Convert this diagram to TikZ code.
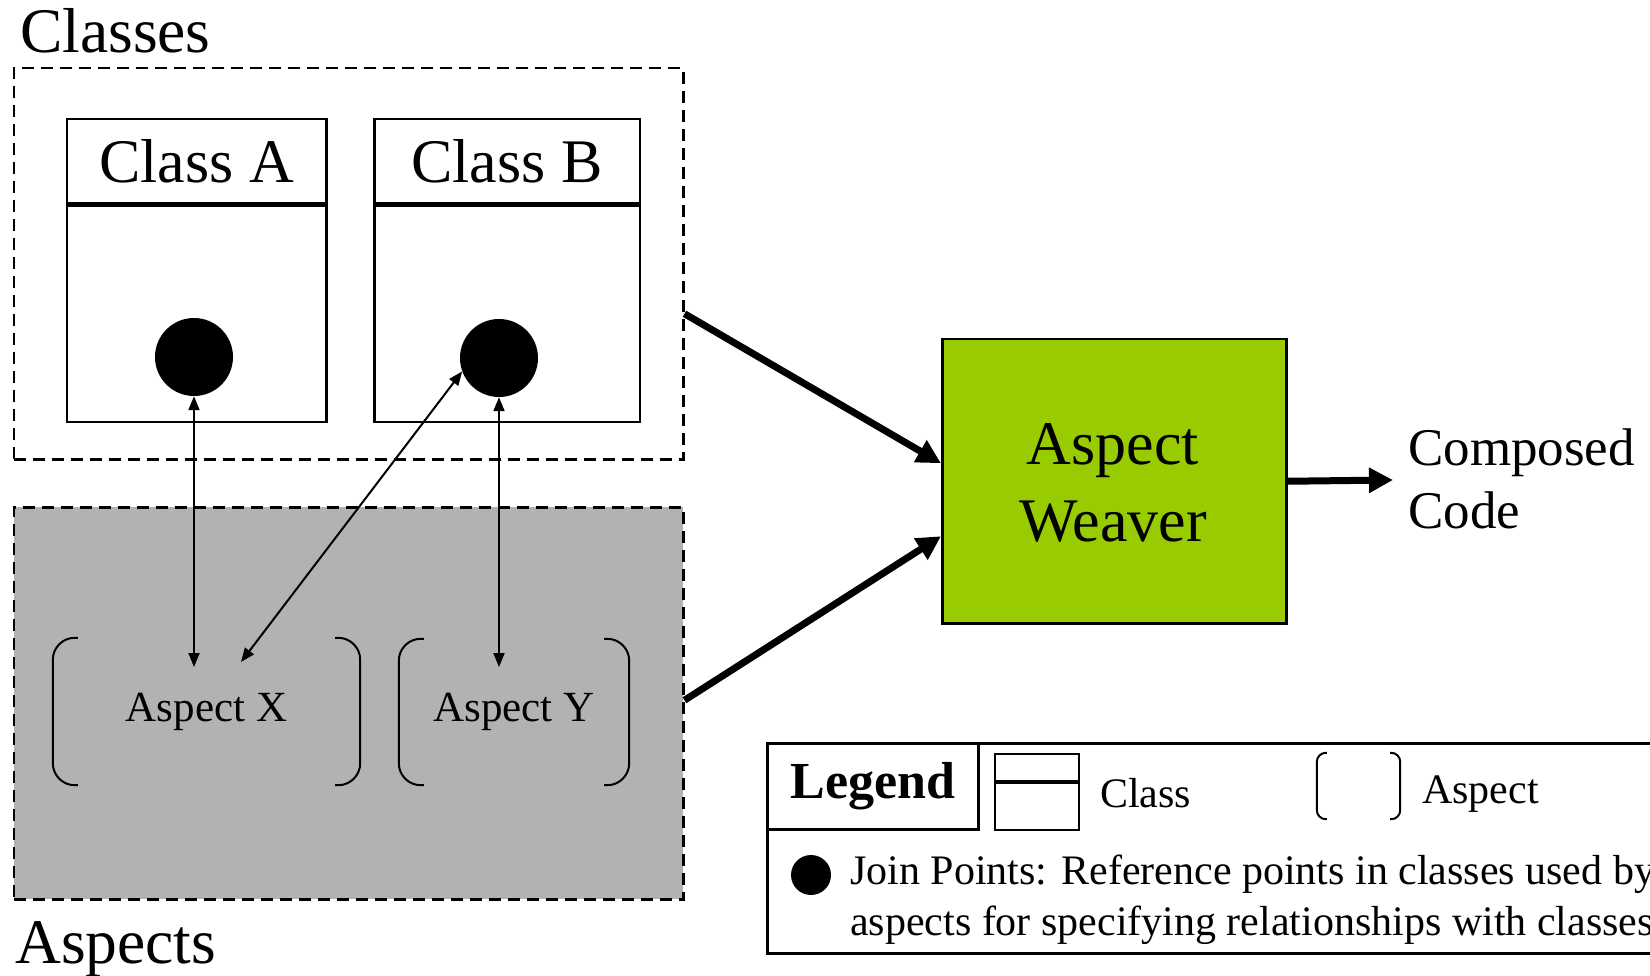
\documentclass[tikz,border=0pt]{standalone}
\usepackage{fontspec}
\setmainfont{Liberation Serif}
\usetikzlibrary{arrows.meta}
\definecolor{weavergreen}{HTML}{99CC00}
\definecolor{aspectgray}{HTML}{B2B2B2}

% two rounded brackets on the left and right sides of a node
\newcommand\drawaspectbrackets[3]{%
  \draw[bracket,rounded corners=#3] ([xshift=#2]#1.north west) -- (#1.north west)
      -- (#1.south west) -- ([xshift=#2]#1.south west);
  \draw[bracket,rounded corners=#3] ([xshift=-#2]#1.north east) -- (#1.north east)
      -- (#1.south east) -- ([xshift=-#2]#1.south east);}

\begin{document}
\begin{tikzpicture}[x=1pt,y=-1pt,
  groupbox/.style={draw,dash pattern=on 12pt off 7pt,line width=2.5pt,inner sep=0pt,anchor=north west},
  classhead/.style={draw,line width=2.5pt,minimum height=84pt,inner sep=0pt,anchor=north west,
      font=\fontsize{62}{70}\selectfont},
  classbody/.style={draw,line width=2.5pt,minimum height=216pt,inner sep=0pt,anchor=north},
  joinpt/.style={circle,fill=black,inner sep=0pt,minimum size=#1},
  joinpt/.default=78pt,
  aspectlbl/.style={inner sep=0pt,font=\fontsize{43}{50}\selectfont},
  bracket/.style={line width=2pt},
  biglabel/.style={inner sep=0pt,font=\fontsize{63.5}{70}\selectfont},
  legtext/.style={inner sep=0pt,font=\fontsize{42}{51}\selectfont},
  link/.style={line width=2pt,{Triangle[length=14pt,width=11pt]}-{Triangle[length=14pt,width=11pt]}},
  flow/.style={line width=7pt,-{Triangle[length=24pt,width=24pt]}},
]
\useasboundingbox (0,0) rectangle (1650,976);
\clip (0,0) rectangle (1650,976);

% group frames
\node[biglabel,anchor=base west] (classesLbl) at (20,53) {Classes};
\node[groupbox,minimum width=669.5pt,minimum height=391pt] (classes) at (12.5,67) {};
\node[groupbox,fill=aspectgray,minimum width=669.5pt,minimum height=392pt] (aspects) at (12.5,506) {};
\node[biglabel,anchor=base west] (aspectsLbl) at (15,963) {Aspects};

% classes with their join points
\node[classhead,minimum width=259.5pt] (classA) at (65.6,118) {Class A};
\node[classbody,minimum width=259.5pt] (classAbody) at (classA.south) {};
\node[classhead,minimum width=265.5pt] (classB) at (373,118) {Class B};
\node[classbody,minimum width=265.5pt] (classBbody) at (classB.south) {};
\node[joinpt] (joinA) at (194,357) {};
\node[joinpt] (joinB) at (499,358) {};

% aspects
\node[aspectlbl,minimum width=307pt,minimum height=147pt] (aspectX) at (206.5,711.5) {Aspect X};
\node[aspectlbl,minimum width=230pt,minimum height=146pt] (aspectY) at (514,712) {Aspect Y};
\drawaspectbrackets{aspectX}{25pt}{22pt}
\drawaspectbrackets{aspectY}{25pt}{22pt}

% links between join points and aspects
\coordinate (tipAX) at (194,667);
\coordinate (tipBX) at (241,662);
\coordinate (tipBY) at (499,667);
\draw[link] (joinA.south) -- (tipAX);
\draw[link] (joinB.200) -- (tipBX);
\draw[link] (joinB.south) -- (tipBY);

% weaver
\node[draw,fill=weavergreen,line width=2.5pt,minimum width=344pt,minimum height=284pt,
      anchor=north west] (weaver) at (941,338) {};
\node[inner sep=0pt,align=center,font=\fontsize{62}{77}\selectfont,anchor=north] (weaverText)
      at (1113,423) {Aspect\\Weaver};
\node[inner sep=0pt,align=left,font=\fontsize{53}{63}\selectfont,anchor=north west] (composed)
      at (1408,429) {Composed\\Code};
\coordinate (outTip) at (1393,480);

\draw[flow] ([yshift=-50pt]classes.east) -- ([yshift=18pt]weaver.west);
\draw[flow] ([yshift=3pt]aspects.east) -- ([yshift=-55pt]weaver.west);
\draw[flow] (weaver.east) -- (outTip);

% legend
\node[draw,line width=2.5pt,anchor=north west,minimum width=1000pt,minimum height=210pt] (legend)
      at (766,742) {};
\node[draw,line width=2.5pt,anchor=north west,minimum width=211pt,minimum height=86pt,
      inner sep=0pt,font=\bfseries\fontsize{52}{60}\selectfont] (legendTitle) at (766,742) {Legend};
\node[draw,line width=2pt,anchor=north west,minimum width=84pt,minimum height=27pt,inner sep=0pt]
      (legClass) at (994,753) {};
\node[draw,line width=2pt,anchor=north,minimum width=84pt,minimum height=47pt,inner sep=0pt]
      (legClassBody) at (legClass.south) {};
\node[legtext,anchor=base west] (legClassTxt) at (1100,807) {Class};
\node[inner sep=0pt,minimum width=83pt,minimum height=66pt] (legAspect) at (1358.5,786) {};
\drawaspectbrackets{legAspect}{10pt}{9pt}
\node[legtext,anchor=base west] (legAspectTxt) at (1422,803) {Aspect};
\node[joinpt=40pt] (legJoin) at (811,875) {};
\node[legtext,align=left,anchor=north west] (legJoinTxt) at (850,855)
      {Join Points: Reference points in classes used by\\aspects for specifying relationships with classes};
\end{tikzpicture}
\end{document}
